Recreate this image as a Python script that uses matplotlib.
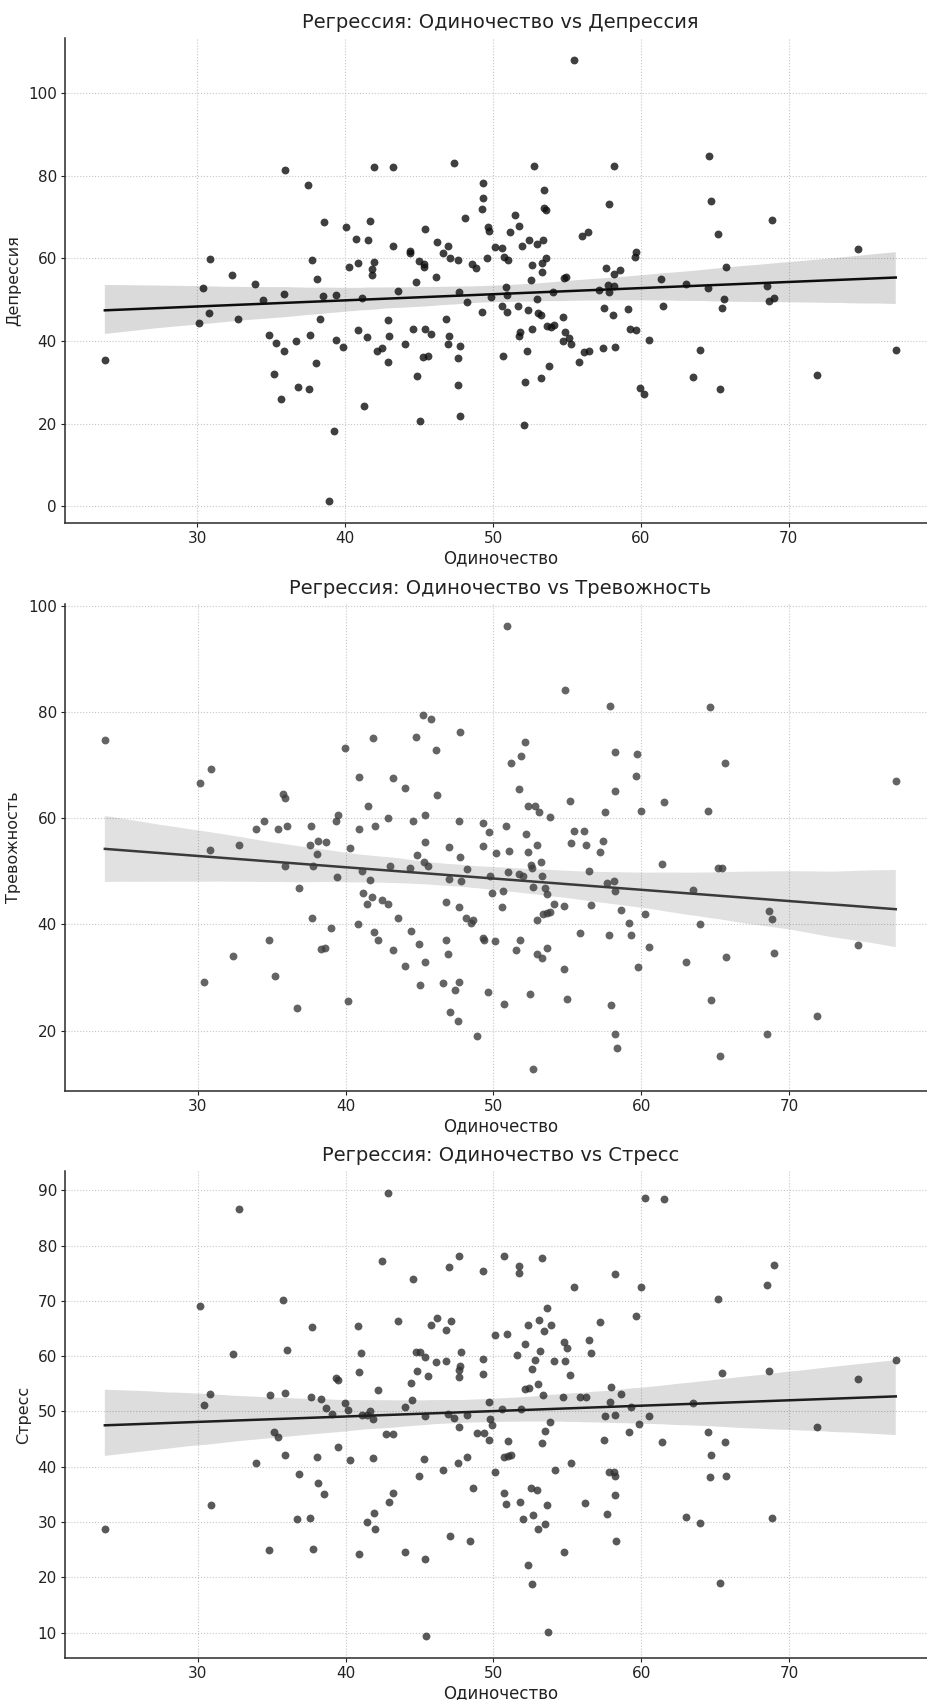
import matplotlib
matplotlib.use("Agg")
import matplotlib.pyplot as plt
import numpy as np
import seaborn as sns

plt.rcParams['font.family'] = ['DejaVu Sans']

# ---------------- data (Одиночество vs ...) ----------------
points_depression = [
    (23.75, 35.3), (30.86, 59.8), (30.38, 52.9), (30.79, 46.7), (30.14, 44.3), (32.35, 56.1),
    (32.73, 45.4), (33.88, 53.7), (34.45, 50.0), (35.87, 51.3), (35.96, 81.5), (37.49, 77.7),
    (38.56, 68.7), (37.77, 59.5), (38.08, 54.9), (38.49, 51.0), (39.37, 51.2), (38.31, 45.4),
    (34.83, 41.4), (35.35, 39.6), (35.85, 37.5), (36.70, 40.0), (37.65, 41.5), (38.01, 34.7),
    (35.19, 32.1), (36.79, 28.9), (37.58, 28.3), (35.69, 25.9), (39.39, 40.3), (39.86, 38.5),
    (39.26, 18.2), (38.89, 1.3), (40.07, 67.5), (40.72, 64.7), (40.23, 57.8), (40.84, 59.0),
    (40.84, 42.7),
    (55.44, 108.0), (41.96, 82.2), (43.26, 82.0), (47.37, 83.0), (52.74, 82.4), (58.20, 82.4),
    (49.30, 78.3), (49.30, 74.7), (49.26, 71.9), (53.44, 76.5), (53.45, 72.2), (53.60, 71.6),
    (57.87, 73.2), (41.69, 69.1), (41.57, 64.4), (41.96, 59.2), (41.84, 57.4), (41.84, 56.1),
    (43.21, 62.9), (45.39, 67.1), (44.40, 61.8), (44.40, 61.4), (46.18, 63.9), (45.01, 59.4),
    (45.35, 58.7), (45.35, 57.8), (44.79, 54.4), (46.13, 55.4), (46.63, 61.4), (46.97, 63.1),
    (47.08, 60.2), (47.66, 59.5), (48.11, 69.7), (48.61, 58.6), (48.88, 57.7), (49.66, 67.5),
    (49.73, 66.7), (49.62, 60.2), (50.11, 62.7), (50.63, 62.4), (50.72, 60.3), (51.01, 59.5),
    (51.15, 66.4), (51.51, 70.4), (51.73, 67.9), (51.98, 62.9), (52.43, 64.4), (52.97, 63.6),
    (53.39, 64.4), (53.57, 60.2), (53.30, 58.9), (53.30, 56.8), (52.61, 58.3), (52.58, 54.7),
    (50.85, 53.0), (50.94, 51.2), (49.89, 50.6), (47.73, 51.8), (43.60, 52.0), (41.12, 50.4),
    (48.22, 49.4), (49.26, 47.0), (50.58, 48.4), (50.94, 47.0), (51.71, 48.4), (52.36, 47.6),
    (52.99, 50.2), (53.03, 46.7), (53.21, 46.4), (54.07, 51.8), (54.79, 55.3), (54.94, 55.4),
    (53.62, 43.6), (53.89, 43.4), (54.09, 44.0), (54.72, 45.8), (54.85, 42.1), (55.12, 40.8),
    (54.72, 39.9), (55.24, 39.4), (52.65, 43.0), (51.84, 42.3), (51.73, 41.3), (52.29, 37.6),
    (50.67, 36.5), (52.18, 30.2), (53.26, 31.1), (53.78, 33.9), (55.84, 34.9), (56.18, 37.3),
    (56.52, 37.6), (57.42, 38.2), (58.27, 38.6), (52.09, 19.6), (56.04, 65.5), (56.45, 66.3),
    (57.64, 57.7), (58.16, 56.3), (58.56, 57.3), (57.75, 53.6), (58.20, 53.4), (57.15, 52.4),
    (57.82, 51.8), (57.53, 48.1), (58.11, 46.3), (59.10, 47.8), (59.24, 42.8), (59.69, 42.7),
    (59.66, 61.6), (59.60, 60.4), (59.93, 28.6), (41.46, 41.0), (42.88, 45.0), (42.99, 41.2),
    (42.18, 37.6), (42.52, 38.3), (42.92, 35.0), (44.02, 39.2), (44.56, 43.0), (45.39, 43.0),
    (45.80, 41.7), (45.28, 36.1), (45.57, 36.4), (44.83, 31.5), (45.06, 20.6), (41.24, 24.3),
    (46.81, 45.3), (47.03, 41.1), (46.92, 39.4), (47.75, 38.7), (47.66, 35.9), (47.66, 29.3),
    (47.75, 21.8),
    (60.23, 27.2), (60.52, 40.2), (61.38, 54.9), (61.52, 48.4), (63.06, 53.8), (63.97, 37.8),
    (63.54, 31.3), (64.51, 52.9), (64.63, 84.8), (64.74, 73.9), (65.22, 65.9), (65.78, 57.8),
    (65.62, 50.2), (65.49, 47.9), (65.33, 28.5), (68.84, 69.2), (68.50, 53.3), (68.64, 49.8),
    (68.98, 50.4), (71.93, 31.8), (74.65, 62.3), (77.23, 37.9),
]

points_anxiety = [
    (23.70, 74.7), (30.11, 66.7), (30.86, 69.2), (30.80, 54.1), (32.75, 55.0), (33.91, 57.9),
    (34.50, 59.5), (35.39, 58.0), (35.73, 64.5), (35.86, 63.8), (36.00, 58.6), (35.89, 51.0),
    (36.82, 46.8), (37.64, 58.6), (37.57, 54.9), (38.14, 55.8), (38.64, 55.6), (38.07, 53.2),
    (37.77, 51.0), (39.32, 59.4), (39.48, 60.7), (39.93, 73.3), (40.93, 67.7), (40.91, 58.0),
    (40.32, 54.4), (39.43, 48.9), (37.73, 41.3), (38.98, 39.4), (40.84, 40.1), (34.84, 37.1),
    (38.36, 35.3), (38.57, 35.5), (32.34, 34.0), (35.23, 30.3), (30.39, 29.2), (36.73, 24.3),
    (40.16, 25.5),
    (50.94, 96.2), (54.87, 84.1), (57.88, 81.1), (45.24, 79.4), (45.79, 78.7), (47.73, 76.2),
    (41.88, 75.1), (44.75, 75.3), (46.12, 72.8), (52.11, 74.4), (51.86, 71.7), (51.16, 70.4),
    (58.26, 72.5), (59.71, 72.2), (59.64, 68.0), (43.21, 67.5), (44.00, 65.8), (46.19, 64.3),
    (51.75, 65.5), (41.54, 62.4), (52.32, 62.4), (52.79, 62.4), (53.06, 61.2), (53.81, 60.3),
    (55.16, 63.2), (58.21, 65.1), (57.58, 61.2), (60.00, 61.3), (41.99, 58.5), (42.85, 60.0),
    (44.56, 59.5), (45.38, 60.6), (47.68, 59.4), (49.31, 59.2), (49.67, 57.5), (50.87, 58.6),
    (52.18, 57.1), (55.48, 57.6), (56.16, 57.6), (55.25, 55.4), (56.29, 55.0), (57.42, 55.8),
    (57.20, 53.7), (45.40, 55.5), (44.81, 53.0), (45.29, 51.8), (45.56, 51.0), (47.00, 54.6),
    (47.77, 52.7), (49.27, 54.8), (50.15, 53.5), (51.03, 53.9), (52.34, 53.7), (52.97, 55.0),
    (53.20, 51.7), (52.54, 51.2), (52.61, 50.6), (41.08, 50.1), (42.98, 51.1), (44.38, 50.6),
    (48.20, 50.5), (49.76, 49.2), (50.96, 49.8), (51.71, 49.5), (51.98, 49.1), (53.29, 49.1),
    (52.66, 47.1), (53.47, 46.9), (53.63, 45.8), (56.50, 50.0), (57.69, 47.8), (58.17, 48.2),
    (58.26, 46.3), (41.63, 48.4), (41.20, 45.9), (41.42, 43.8), (41.81, 45.1), (42.46, 44.6),
    (42.89, 43.8), (43.57, 41.3), (47.00, 48.5), (47.82, 48.1), (46.80, 44.2), (47.68, 43.2),
    (48.14, 41.3), (48.45, 40.2), (48.63, 40.9), (49.90, 45.9), (50.67, 46.3), (50.60, 43.3),
    (52.97, 40.8), (53.36, 41.9), (53.60, 42.2), (53.85, 42.3), (54.12, 43.8), (54.76, 43.4),
    (56.61, 43.6), (58.62, 42.7), (59.16, 40.2), (59.34, 38.0), (57.85, 38.0), (55.89, 38.4),
    (41.92, 38.6), (42.17, 37.0), (43.23, 35.1), (44.41, 38.7), (44.97, 36.4), (44.02, 32.2),
    (45.38, 33.0), (45.02, 28.6), (46.62, 28.9), (46.76, 37.0), (46.92, 34.5), (47.37, 27.7),
    (47.64, 29.2), (47.07, 23.6), (47.57, 21.9), (48.86, 18.9), (49.29, 37.4), (49.35, 37.1),
    (50.10, 36.8), (49.63, 27.2), (50.71, 25.0), (51.55, 35.2), (51.77, 37.0), (52.97, 34.4),
    (53.29, 33.7), (53.63, 35.5), (52.45, 26.9), (54.76, 31.7), (55.01, 26.0), (57.97, 24.9),
    (58.26, 19.3), (58.33, 16.7), (52.66, 12.8), (59.77, 32.0),
    (60.25, 41.9), (60.52, 35.8), (61.54, 63.0), (61.38, 51.4), (63.06, 32.9), (63.54, 46.5),
    (63.97, 40.0), (64.49, 61.4), (64.63, 80.9), (64.74, 25.7), (65.17, 50.6), (65.49, 50.6),
    (65.65, 70.4), (65.76, 33.8), (65.33, 15.3), (68.64, 42.6), (68.84, 41.0), (68.98, 34.7),
    (68.50, 19.3), (71.93, 22.8), (74.65, 36.2), (77.23, 67.1),
]

points_stress = [
    (32.77, 86.6), (30.11, 69.0), (35.73, 70.1), (37.70, 65.2), (40.84, 65.4), (32.34, 60.4),
    (36.00, 61.1), (41.02, 60.5), (40.91, 57.2), (39.36, 56.0), (39.45, 55.7), (30.80, 53.1),
    (30.39, 51.1), (34.86, 52.9), (35.89, 53.3), (37.64, 52.7), (38.36, 52.2), (38.66, 50.6),
    (39.05, 49.5), (39.93, 51.6), (40.16, 50.3), (35.18, 46.3), (35.39, 45.3), (35.89, 42.2),
    (33.91, 40.6), (36.82, 38.7), (38.07, 41.8), (39.45, 43.5), (40.32, 41.3), (38.14, 37.1),
    (38.55, 35.1), (30.86, 33.1), (23.70, 28.8), (36.73, 30.6), (37.57, 30.8), (34.84, 25.0),
    (37.82, 25.1), (40.91, 24.3),
    (42.89, 89.5), (42.49, 77.2), (44.54, 73.9), (47.00, 76.2), (47.68, 78.1), (49.29, 75.5),
    (50.71, 78.2), (51.75, 76.3), (51.75, 75.1), (53.29, 77.7), (58.21, 74.9), (55.48, 72.5),
    (59.98, 72.5), (43.57, 66.4), (45.76, 65.7), (46.19, 66.9), (46.80, 64.7), (47.10, 66.4),
    (50.08, 63.8), (50.94, 64.1), (52.34, 65.7), (53.06, 66.5), (53.63, 68.7), (53.42, 64.5),
    (53.90, 65.7), (59.68, 67.3), (57.18, 66.2), (56.50, 63.0), (56.61, 60.5), (54.76, 62.6),
    (55.01, 61.4), (54.87, 59.1), (55.16, 56.6), (52.11, 62.2), (51.57, 60.2), (52.79, 59.3),
    (53.18, 60.9), (52.61, 57.7), (54.09, 59.1), (53.02, 54.9), (52.16, 54.0), (52.43, 54.2),
    (53.36, 52.9), (42.21, 53.9), (44.77, 60.8), (45.06, 60.8), (45.38, 59.8), (44.83, 57.3),
    (45.56, 56.5), (46.12, 58.9), (46.76, 59.2), (47.82, 60.8), (47.77, 58.3), (47.68, 57.5),
    (47.68, 56.2), (49.27, 59.5), (49.31, 56.8), (44.43, 55.2), (44.46, 52.0), (44.03, 50.8),
    (45.36, 49.1), (46.92, 49.5), (47.34, 48.9), (48.18, 49.4), (47.68, 47.1), (49.67, 51.7),
    (49.74, 48.6), (49.88, 47.6), (50.56, 50.5), (51.84, 50.4), (48.86, 46.1), (49.33, 46.1),
    (49.67, 44.8), (50.96, 44.6), (53.29, 44.3), (53.52, 46.5), (53.81, 48.1), (54.74, 52.7),
    (55.84, 52.6), (56.29, 52.7), (57.97, 54.5), (58.62, 53.1), (57.88, 51.7), (57.58, 49.1),
    (58.26, 49.4), (59.28, 50.8), (59.82, 47.8), (59.15, 46.3), (57.45, 44.9), (41.13, 49.4),
    (41.42, 49.4), (41.65, 50.1), (41.83, 48.6), (42.73, 46.0), (43.23, 46.0), (41.88, 41.6),
    (45.27, 41.4), (44.97, 38.4), (46.62, 39.4), (47.57, 40.6), (48.20, 41.7), (48.65, 36.2),
    (50.12, 39.1), (50.69, 41.8), (50.96, 41.9), (51.19, 42.2), (54.14, 39.4), (55.23, 40.7),
    (57.81, 39.1), (58.15, 39.1), (58.26, 38.3), (58.26, 34.8), (43.19, 35.2), (42.96, 33.7),
    (41.92, 31.6), (41.42, 30.0), (41.96, 28.7), (44.02, 24.6), (45.36, 23.3), (47.03, 27.4),
    (48.41, 26.6), (50.69, 35.2), (50.87, 33.3), (51.77, 33.7), (52.00, 30.6), (52.56, 36.1),
    (52.97, 35.8), (52.65, 31.2), (53.02, 28.8), (53.52, 29.7), (53.63, 33.1), (56.18, 33.4),
    (57.69, 31.4), (58.31, 26.5), (54.76, 24.5), (52.32, 22.3), (52.61, 18.7), (45.42, 9.4),
    (53.66, 10.1),
    (60.25, 88.7), (61.54, 88.4), (60.52, 49.1), (61.38, 44.5), (63.54, 51.6), (64.49, 46.3),
    (65.65, 44.4), (64.74, 42.1), (64.63, 38.1), (65.76, 38.4), (65.49, 57.0), (65.22, 70.3),
    (63.06, 30.9), (63.97, 29.8), (65.33, 18.9), (68.50, 72.9), (68.98, 76.5), (68.66, 57.4),
    (68.84, 30.7), (71.93, 47.2), (74.65, 55.9), (77.23, 59.3),
]

x_label = 'Одиночество'
y_labels = ['Депрессия', 'Тревожность', 'Стресс']
titles = ['Регрессия: Одиночество vs Депрессия',
          'Регрессия: Одиночество vs Тревожность',
          'Регрессия: Одиночество vs Стресс']
datasets = [points_depression, points_anxiety, points_stress]

# ---------------- styles ----------------
point_colors = ['#0f0f0f', '#3d3d3d', '#303030']
line_colors = ['#0d0d0d', '#3a3a3a', '#1e1e1e']

W, H = 927, 1700
fig = plt.figure(figsize=(W / 100, H / 100), dpi=100)
ax_left_px, ax_width_px = 65.3, 870.0
panels_px = [(38, 523), (604, 1091), (1171, 1658)]

for i, (pts, ylab, title) in enumerate(zip(datasets, y_labels, titles)):
    top, bot = panels_px[i]
    ax = fig.add_axes([ax_left_px / W, 1 - bot / H, ax_width_px / W, (bot - top) / H])
    xs = np.array([p[0] for p in pts])
    ys = np.array([p[1] for p in pts])
    sns.regplot(x=xs, y=ys, ax=ax, ci=95, n_boot=1000, seed=3,
                scatter_kws=dict(s=32, color=point_colors[i], alpha=0.8, linewidths=0),
                line_kws=dict(color=line_colors[i], lw=1.8))
    ax.set_title(title, fontsize=14, color='#222222', pad=7)
    ax.set_xlabel(x_label, fontsize=12, color='#222222', labelpad=2)
    ax.set_ylabel(ylab, fontsize=11.5, color='#222222', labelpad=5)
    ax.grid(True, linestyle=':', color='#c6c6c6', linewidth=0.8)
    ax.set_axisbelow(True)
    for s in ['top', 'right']:
        ax.spines[s].set_visible(False)
    for s in ['left', 'bottom']:
        ax.spines[s].set_color('#2a2a2a')
        ax.spines[s].set_linewidth(1.1)
    ax.tick_params(axis='both', labelsize=11, colors='#222222', length=3, pad=3, direction='out')
    ax.set_xticks([30, 40, 50, 60, 70])

fig.savefig('out.png', dpi=100, facecolor='white')
